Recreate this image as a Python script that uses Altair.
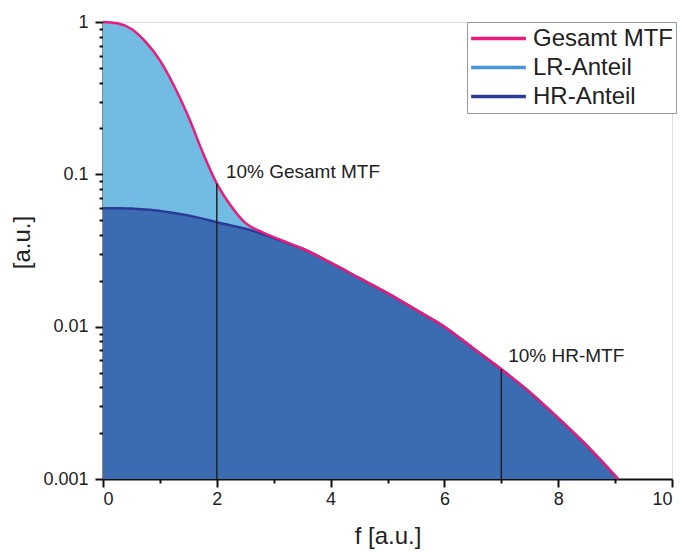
import altair as alt
import pandas as pd

# frequency grid [a.u.]
f_vals = [0, 0.25, 0.5, 0.75, 1.0, 1.25, 1.5, 1.75, 2.0, 2.25, 2.5, 2.75, 3.0, 3.25,
          3.5, 4.0, 4.5, 5.0, 5.5, 6.0, 6.5, 7.0, 7.5, 8.0, 8.5, 9.05]
# total MTF (Gesamt)
total_vals = [1.0, 0.98, 0.9, 0.74, 0.56, 0.38, 0.24, 0.14, 0.087, 0.062, 0.048, 0.0425, 0.0387, 0.0355,
              0.0326, 0.0263, 0.0209, 0.0166, 0.0129, 0.0100, 0.00724, 0.00525, 0.00372, 0.00251, 0.00166, 0.001]
# HR part
hr_vals = [0.060, 0.0599, 0.0596, 0.0587, 0.0575, 0.0558, 0.0537, 0.0512, 0.0485, 0.0462, 0.044, 0.0412, 0.0382, 0.0353,
           0.0326, 0.0263, 0.0209, 0.0166, 0.0129, 0.0100, 0.00724, 0.00525, 0.00372, 0.00251, 0.00166, 0.001]

series_names = ["Gesamt MTF", "LR-Anteil", "HR-Anteil"]
series_colors = ["#EC1A7A", "#4A95D6", "#2B3A96"]

marker_f = [2, 7]
marker_y = [0.087, 0.00525]
label_f = [2.16, 7.12]
label_y = [0.094, 0.0059]
label_text = ["10% Gesamt MTF", "10% HR-MTF"]

y_base = 0.001

df = pd.DataFrame({"f": f_vals, "total": total_vals, "hr": hr_vals})
df["base"] = y_base

lines = pd.concat([
    pd.DataFrame({"f": f_vals, "v": hr_vals, "s": "HR-Anteil", "o": 1}),
    pd.DataFrame({"f": f_vals, "v": total_vals, "s": "Gesamt MTF", "o": 2}),
])

markers = pd.DataFrame({"f": marker_f, "y": marker_y, "base": y_base})
labels = pd.DataFrame({"f": label_f, "y": label_y, "t": label_text})

FONT = "Liberation Sans"

x_scale = alt.Scale(domain=[0, 10], nice=False, zero=False)
y_scale = alt.Scale(type="log", domain=[0.001, 1], nice=False)

dec_test_y = "abs(log(datum.value)/LN10 - round(log(datum.value)/LN10)) < 0.001"
y_tick_values = []
for d in [0.001, 0.01, 0.1]:
    for m in range(1, 10):
        y_tick_values.append(round(d * m, 6))
y_tick_values.append(1.0)

x_axis = alt.Axis(
    values=list(range(0, 11)),
    labelExpr="datum.value % 2 == 0 ? format(datum.value, 'd') : ''",
    tickSize={"condition": {"test": "datum.value % 2 == 0", "value": 8}, "value": 4},
    grid=False, domainColor="#111", domainWidth=2, tickColor="#111", tickWidth=2,
    labelFont=FONT, labelFontSize=18, labelColor="#222", labelPadding=3,
    title="f [a.u.]", titleFont=FONT, titleFontSize=24, titleFontWeight="normal",
    titleColor="#222", titlePadding=16,
)
y_axis = alt.Axis(
    values=y_tick_values,
    labelExpr=dec_test_y + " ? format(datum.value, '~g') : ''",
    tickSize={"condition": {"test": dec_test_y, "value": 8}, "value": 4},
    grid=False, domainColor="#111", domainWidth=2, tickColor="#111", tickWidth=2,
    labelFont=FONT, labelFontSize=18, labelColor="#222", labelPadding=7,
    title="[a.u.]", titleFont=FONT, titleFontSize=24, titleFontWeight="normal",
    titleColor="#222", titleX=-81, titleY=220, titleAngle=-90, titleAlign="center",
    titleBaseline="middle",
)

base = alt.Chart(df)

lr_area = base.mark_area(color="#72BCE4", interpolate="monotone").encode(
    x=alt.X("f:Q", scale=x_scale, axis=x_axis),
    y=alt.Y("total:Q", scale=y_scale, axis=y_axis),
    y2="base:Q",
)
hr_area = base.mark_area(color="#3B6CB2", interpolate="monotone").encode(
    x=alt.X("f:Q"),
    y=alt.Y("hr:Q"),
    y2="base:Q",
)

line_layer = alt.Chart(lines).mark_line(interpolate="monotone", strokeWidth=2.5).encode(
    x="f:Q",
    y="v:Q",
    order="o:Q",
    color=alt.Color(
        "s:N",
        scale=alt.Scale(domain=series_names, range=series_colors),
        legend=alt.Legend(
            title=None, orient="none", legendX=364, legendY=0,
            symbolType="stroke", symbolSize=3000, symbolStrokeWidth=3.5,
            labelFont=FONT, labelFontSize=24, labelColor="#222",
            strokeColor="#999", padding=2, rowPadding=0, clipHeight=29,
            labelOffset=5, fillColor="white", labelLimit=300,
        ),
    ),
)

rules = alt.Chart(markers).mark_rule(color="#222", strokeWidth=1.5).encode(
    x="f:Q", y="y:Q", y2="base:Q"
)

texts = alt.Chart(labels).mark_text(
    align="left", baseline="alphabetic", font=FONT, fontSize=19, color="#222"
).encode(x="f:Q", y="y:Q", text="t:N")

chart = alt.layer(lr_area, hr_area, line_layer, rules, texts).properties(
    width=569, height=457,
    autosize=alt.AutoSizeParams(type="none"),
    padding={"left": 103, "top": 22, "right": 11, "bottom": 73},
).configure_view(stroke=None).configure(background="white")

chart.save("out.html", embed_options={"renderer": "svg", "actions": False})
